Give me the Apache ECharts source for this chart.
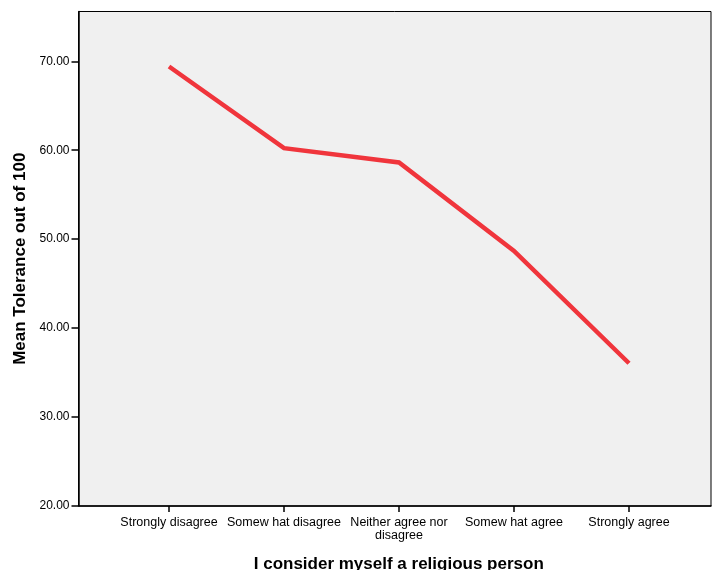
<!DOCTYPE html>
<html>
<head>
<meta charset="utf-8">
<script src="https://cdn.jsdelivr.net/npm/echarts@6/dist/echarts.min.js"></script>
<style>html,body{margin:0;padding:0;background:#fff}#c{width:713px;height:570px}</style>
</head>
<body>
<div id="c"></div>
<script>
var categories = ["Strongly disagree", "Somew hat disagree", "Neither agree nor\ndisagree", "Somew hat agree", "Strongly agree"];
var meanTolerance = [69.42, 60.24, 58.62, 48.68, 36.05];
var yTicks = [20, 30, 40, 50, 60, 70];
var xTitle = "I consider myself a religious person";
var yTitle = "Mean Tolerance out of 100";

var positions = categories.map(function (c, i) { return i; });
var seriesData = meanTolerance.map(function (v, i) { return [positions[i], v]; });

var chart = echarts.init(document.getElementById('c'), null, { renderer: 'canvas' });
var font = 'Liberation Sans, Arial, sans-serif';
chart.setOption({
  animation: false,
  backgroundColor: '#ffffff',
  grid: {
    left: 78.5, right: 2, top: 11.5, bottom: 64,
    containLabel: false,
    outerBoundsMode: 'none',
    show: true, backgroundColor: '#f0f0f0', borderColor: '#000', borderWidth: 1
  },
  xAxis: {
    type: 'value',
    min: -0.787, max: 4.713,
    name: xTitle,
    nameLocation: 'middle',
    nameGap: 50,
    nameTextStyle: { fontFamily: font, fontWeight: 'bold', fontSize: 17, color: '#000', padding: [0, 0, 0, 8] },
    axisLine: { show: true, onZero: false, lineStyle: { color: '#000', width: 1.5 } },
    axisTick: { show: true, length: 6, lineStyle: { color: '#000', width: 1.5 }, customValues: positions },
    axisLabel: {
      customValues: positions,
      margin: 10,
      fontFamily: font, fontSize: 12.5, color: '#000', lineHeight: 13,
      formatter: function (v) { var i = Math.round(v); return categories[i] || ''; }
    },
    splitLine: { show: false }
  },
  yAxis: {
    type: 'value',
    min: 20, max: 75.6,
    name: yTitle,
    nameLocation: 'middle',
    nameGap: 48,
    nameTextStyle: { fontFamily: font, fontWeight: 'bold', fontSize: 17, color: '#000' },
    axisLine: { show: true, onZero: false, lineStyle: { color: '#000', width: 1.5 } },
    axisTick: { show: true, length: 7, lineStyle: { color: '#000', width: 1.5 }, customValues: yTicks },
    axisLabel: {
      customValues: yTicks,
      margin: 9,
      fontFamily: font, fontSize: 12, color: '#000',
      formatter: function (v) { return v.toFixed(2); }
    },
    splitLine: { show: false }
  },
  series: [{
    type: 'line',
    data: seriesData,
    showSymbol: false,
    symbol: 'none',
    lineStyle: { color: '#f0353c', width: 4.5, cap: 'butt', join: 'miter' }
  }]
});
</script>
</body>
</html>
